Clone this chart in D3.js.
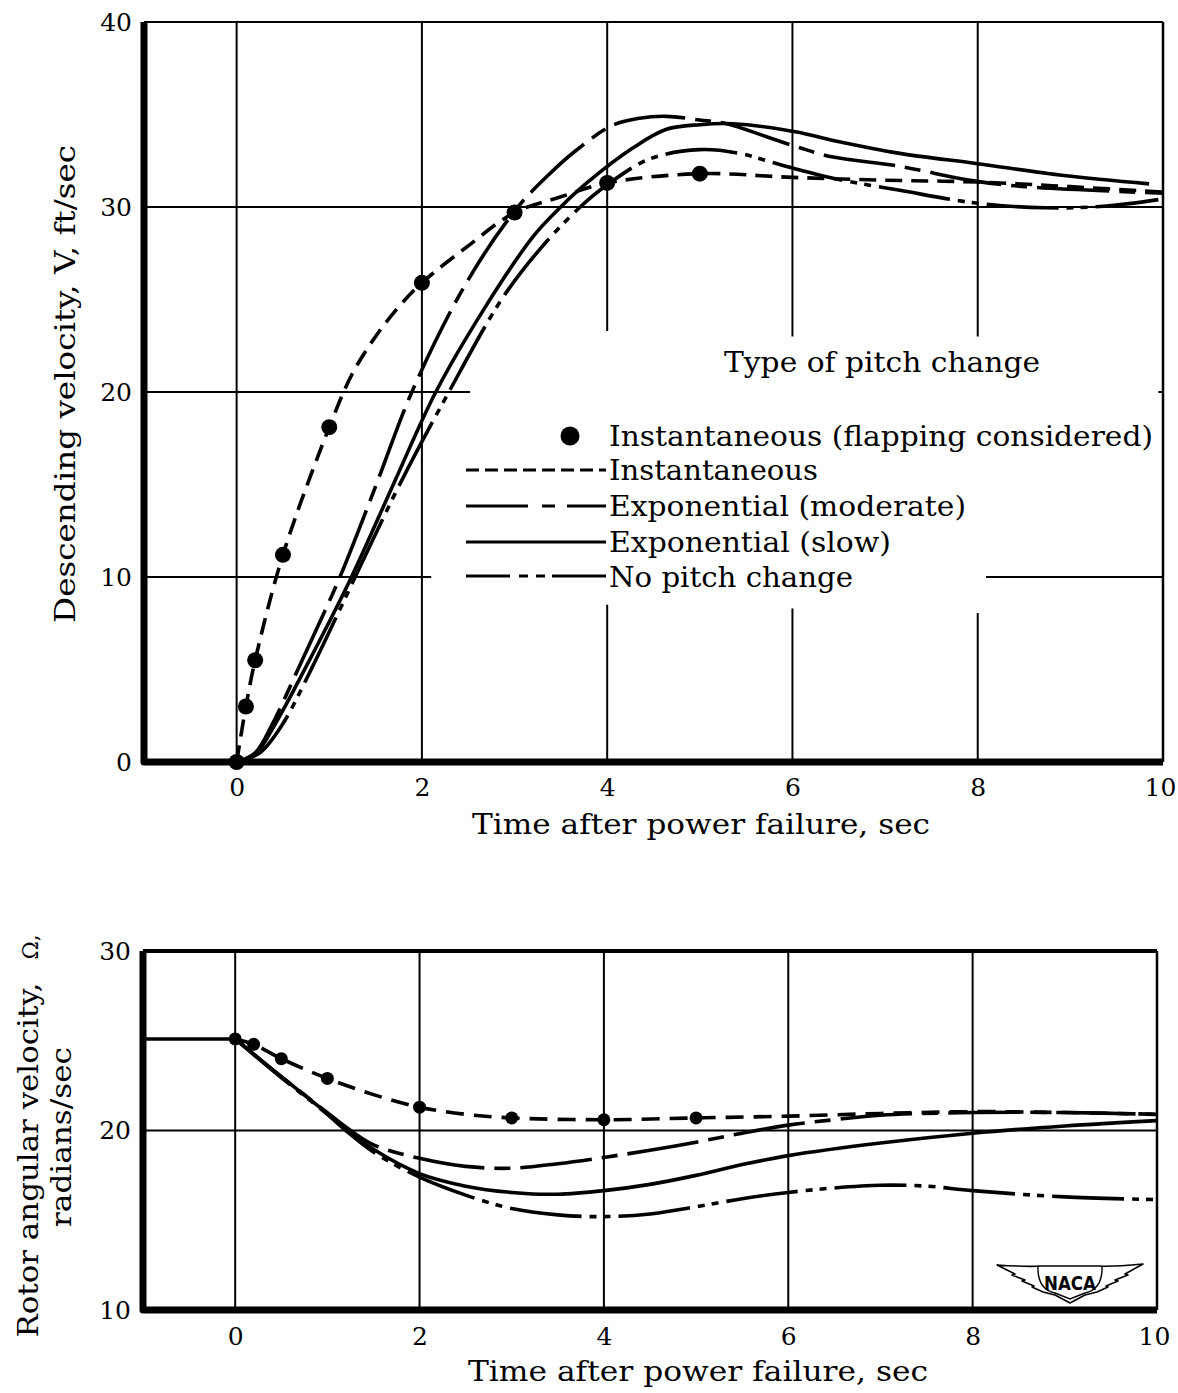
<!DOCTYPE html>
<html>
<head>
<meta charset="utf-8">
<script src="https://cdn.jsdelivr.net/npm/d3@7"></script>
<style>
  html, body { margin: 0; padding: 0; background: #fff; }
  svg { display: block; }
  text { font-family: "DejaVu Serif", serif; fill: #000; }
</style>
</head>
<body>
<svg id="chart" width="1178" height="1393"></svg>
<script>
// ---- top panel: descending velocity V (ft/sec) against time after power failure (sec)
const flapT = [0, 0.1, 0.2, 0.5, 1, 2, 3, 4, 5];
const flapV = [0, 3.0, 5.5, 11.2, 18.1, 25.9, 29.7, 31.3, 31.8];

const instT = [0, 0.1, 0.2, 0.5, 1, 1.25, 1.5, 1.75, 2, 2.5, 3, 3.5, 4, 5, 6, 7, 8, 9, 10];
const instV = [0, 3.0, 5.5, 11.2, 18.1, 21.0, 23.0, 24.6, 25.9, 27.9, 29.7, 30.55, 31.3, 31.8, 31.6, 31.45, 31.35, 31.1, 30.8];

const modT = [0, 0.2, 0.38, 0.67, 1.115, 1.5, 1.9, 2.48, 3.02, 3.38, 3.65, 4.05, 4.35, 4.64, 5.0, 5.29, 5.72, 6.08, 6.44, 7.16, 7.92, 8.51, 10];
const modV = [0, 0.5, 2.0, 5.1, 10, 14.9, 20.1, 25.9, 29.9, 31.8, 33.0, 34.4, 34.8, 34.9, 34.7, 34.5, 33.8, 33.2, 32.7, 32.2, 31.44, 31.1, 30.75];

const slowT = [0, 0.2, 0.41, 0.74, 1.24, 1.7, 2.15, 2.66, 3.2, 3.49, 3.78, 4.28, 4.64, 5.0, 5.36, 6.03, 6.44, 7.16, 8, 8.93, 9.85];
const slowV = [0, 0.4, 2.0, 5.06, 10, 15.1, 20.0, 24.4, 28.4, 29.96, 31.3, 33.2, 34.2, 34.45, 34.5, 34.07, 33.6, 32.9, 32.34, 31.7, 31.25];

const noneT = [0, 0.25, 0.49, 0.81, 1.28, 1.75, 2.28, 2.86, 3.27, 3.7, 4.0, 4.46, 5.0, 5.43, 5.72, 6.08, 6.44, 7.16, 8.0, 8.72, 9.36, 9.95];
const noneV = [0, 0.5, 2.0, 5.06, 10, 14.9, 19.9, 25.0, 27.7, 29.96, 31.2, 32.6, 33.1, 32.9, 32.5, 32.0, 31.55, 30.9, 30.2, 29.96, 30.04, 30.4];

// ---- bottom panel: rotor angular velocity (radians/sec)
const preT = [-1, 0];
const preW = [25.1, 25.1];

const flapTb = [0, 0.2, 0.5, 1, 2, 3, 4, 5];
const flapW = [25.1, 24.8, 24.0, 22.9, 21.3, 20.7, 20.6, 20.7];

const instTb = [0, 0.2, 0.5, 1, 1.5, 2, 2.5, 3, 4, 5, 6, 7, 8, 9, 10];
const instW = [25.1, 24.8, 24.0, 22.9, 22.0, 21.3, 20.9, 20.7, 20.6, 20.7, 20.8, 20.95, 21.05, 21.0, 20.9];

const modTb = [0, 0.5, 1, 1.2, 1.5, 2, 2.5, 3, 3.5, 4, 4.5, 5, 5.5, 6, 6.5, 7, 8, 9, 10];
const modW = [25.1, 23.0, 21.0, 20.2, 19.2, 18.45, 18.0, 17.9, 18.15, 18.5, 18.9, 19.35, 19.85, 20.3, 20.6, 20.85, 21.0, 21.0, 20.9];

const slowTb = [0, 0.5, 1, 1.2, 1.5, 2, 2.5, 3, 3.5, 4, 4.5, 5, 5.5, 6, 7, 8, 9, 10];
const slowW = [25.1, 23.0, 20.95, 20.1, 18.95, 17.6, 16.9, 16.55, 16.45, 16.65, 17.0, 17.5, 18.1, 18.6, 19.3, 19.85, 20.25, 20.55];

const noneTb = [0, 0.5, 1, 1.2, 1.5, 2, 2.5, 3, 3.5, 4, 4.5, 5, 5.5, 6, 6.5, 7, 7.5, 8, 9, 10];
const noneW = [25.1, 22.95, 20.9, 20.0, 18.8, 17.4, 16.4, 15.65, 15.3, 15.2, 15.35, 15.75, 16.2, 16.55, 16.8, 16.95, 16.9, 16.65, 16.3, 16.15];

// ticks
const xTicks = [0, 2, 4, 6, 8, 10];
const yTicksTop = [0, 10, 20, 30, 40];
const yTicksBottom = [10, 20, 30];

// grid lines of the top panel are broken around the legend
const vGridTop = [
  { t: 0, segs: [[0, 40]] },
  { t: 2, segs: [[0, 40]] },
  { t: 4, segs: [[0, 8.5], [23.3, 40]] },
  { t: 6, segs: [[0, 8.3], [23.0, 40]] },
  { t: 8, segs: [[0, 8.05], [23.0, 40]] },
];
const hGridTop = [
  { v: 10, segs: [[-1, 2.1], [8.09, 10]] },
  { v: 20, segs: [[-1, 2.52], [9.95, 10]] },
  { v: 30, segs: [[-1, 10]] },
];
const vGridBottom = [0, 2, 4, 6, 8];
const hGridBottom = [20];

const legendLabels = [
  'Instantaneous (flapping considered)',
  'Instantaneous',
  'Exponential (moderate)',
  'Exponential (slow)',
  'No pitch change',
];

const styles = {
  inst: { dash: '17,9', legendDash: '13,6' },
  mod: { dash: '72,10,16,10', legendDash: '62,14,13,12,60' },
  slow: { dash: null, legendDash: null },
  none: { dash: '72,8,7,7,7,8', legendDash: '44,9,9,8,9,7,60' },
};

const zip = (a, b) => a.map((v, i) => [v, b[i]]);

const svg = d3.select('#chart');

function drawCurve(g, x, y, t, v, dash) {
  const line = d3.line()
    .x((d) => x(d[0]))
    .y((d) => y(d[1]))
    .curve(d3.curveCatmullRom.alpha(0.5));
  g.append('path')
    .datum(zip(t, v))
    .attr('d', line)
    .attr('fill', 'none')
    .attr('stroke', '#000')
    .attr('stroke-width', 3.6)
    .attr('stroke-linecap', 'butt')
    .attr('stroke-dasharray', dash);
}

function drawDots(g, x, y, t, v, r) {
  g.selectAll(null)
    .data(zip(t, v))
    .join('circle')
    .attr('cx', (d) => x(d[0]))
    .attr('cy', (d) => y(d[1]))
    .attr('r', r)
    .attr('fill', '#000');
}

function drawAxes(g, x, y, yTicks, xPad) {
  const y0 = y.range()[0];
  const x0 = x.range()[0];
  const bottom = g.append('g')
    .attr('transform', `translate(0,${y0})`)
    .call(d3.axisBottom(x).tickValues(xTicks).tickSize(0).tickPadding(xPad));
  bottom.select('.domain').remove();
  bottom.attr('font-family', null).attr('font-size', 25);
  // keep the last label inside the page
  bottom.selectAll('.tick text').filter((d) => d === 10).attr('dx', -3);

  const left = g.append('g')
    .attr('transform', `translate(${x0},0)`)
    .call(d3.axisLeft(y).tickValues(yTicks).tickSize(0).tickPadding(12));
  left.select('.domain').remove();
  left.attr('font-family', null).attr('font-size', 25);
}

function drawFrame(g, x, y, wTop, wRight, wHeavy) {
  const [xl, xr] = x.range();
  const [yb, yt] = y.range();
  g.append('line').attr('x1', xl).attr('x2', xr).attr('y1', yt).attr('y2', yt)
    .attr('stroke', '#000').attr('stroke-width', wTop);
  g.append('line').attr('x1', xr).attr('x2', xr).attr('y1', yt).attr('y2', yb)
    .attr('stroke', '#000').attr('stroke-width', wRight);
  g.append('path')
    .attr('d', `M${xl},${yt}L${xl},${yb}L${xr},${yb}`)
    .attr('fill', 'none')
    .attr('stroke', '#000')
    .attr('stroke-width', wHeavy)
    .attr('stroke-linejoin', 'round');
}

// ================= top panel =================
const xTop = d3.scaleLinear().domain([-1, 10]).range([144, 1163]);
const yTop = d3.scaleLinear().domain([0, 40]).range([762, 22]);
const gTop = svg.append('g');

vGridTop.forEach((d) => {
  d.segs.forEach(([a, b]) => {
    gTop.append('line')
      .attr('x1', xTop(d.t)).attr('x2', xTop(d.t))
      .attr('y1', yTop(a)).attr('y2', yTop(b))
      .attr('stroke', '#000').attr('stroke-width', 2);
  });
});
hGridTop.forEach((d) => {
  d.segs.forEach(([a, b]) => {
    gTop.append('line')
      .attr('x1', xTop(a)).attr('x2', xTop(b))
      .attr('y1', yTop(d.v)).attr('y2', yTop(d.v))
      .attr('stroke', '#000').attr('stroke-width', 2);
  });
});

drawFrame(gTop, xTop, yTop, 2.2, 2.5, 7);

drawCurve(gTop, xTop, yTop, instT, instV, styles.inst.dash);
drawCurve(gTop, xTop, yTop, modT, modV, styles.mod.dash);
drawCurve(gTop, xTop, yTop, slowT, slowV, styles.slow.dash);
drawCurve(gTop, xTop, yTop, noneT, noneV, styles.none.dash);
drawDots(gTop, xTop, yTop, flapT, flapV, 8);

drawAxes(gTop, xTop, yTop, yTicksTop, 16);

gTop.append('text')
  .attr('x', 701).attr('y', 834)
  .attr('text-anchor', 'middle')
  .attr('font-size', 27)
  .attr('textLength', 458).attr('lengthAdjust', 'spacingAndGlyphs')
  .text('Time after power failure, sec');

gTop.append('text')
  .attr('transform', 'translate(75,384) rotate(-90)')
  .attr('text-anchor', 'middle')
  .attr('font-size', 27)
  .attr('textLength', 478).attr('lengthAdjust', 'spacingAndGlyphs')
  .text('Descending velocity, V, ft/sec');

// legend
const leg = gTop.append('g');
leg.append('text')
  .attr('x', 724).attr('y', 372)
  .attr('font-size', 27)
  .attr('textLength', 316).attr('lengthAdjust', 'spacingAndGlyphs')
  .text('Type of pitch change');

const legRows = [
  { y: 436, base: 446, len: 544, style: null },
  { y: 470, base: 480, len: 209, style: 'inst' },
  { y: 506, base: 516, len: 357, style: 'mod' },
  { y: 542, base: 552, len: 282, style: 'slow' },
  { y: 576, base: 587, len: 244, style: 'none' },
];
legRows.forEach((row, i) => {
  if (row.style === null) {
    leg.append('circle').attr('cx', 570).attr('cy', row.y).attr('r', 9.5).attr('fill', '#000');
  } else {
    leg.append('line')
      .attr('x1', 466).attr('x2', 606)
      .attr('y1', row.y).attr('y2', row.y)
      .attr('stroke', '#000').attr('stroke-width', 3)
      .attr('stroke-dasharray', styles[row.style].legendDash);
  }
  leg.append('text')
    .attr('x', 609).attr('y', row.base)
    .attr('font-size', 27)
    .attr('textLength', row.len).attr('lengthAdjust', 'spacingAndGlyphs')
    .text(legendLabels[i]);
});

// ================= bottom panel =================
const xBot = d3.scaleLinear().domain([-1, 10]).range([143, 1157]);
const yBot = d3.scaleLinear().domain([10, 30]).range([1310, 951]);
const gBot = svg.append('g');

vGridBottom.forEach((t) => {
  gBot.append('line')
    .attr('x1', xBot(t)).attr('x2', xBot(t))
    .attr('y1', yBot(10)).attr('y2', yBot(30))
    .attr('stroke', '#000').attr('stroke-width', 2);
});
hGridBottom.forEach((v) => {
  gBot.append('line')
    .attr('x1', xBot(-1)).attr('x2', xBot(10))
    .attr('y1', yBot(v)).attr('y2', yBot(v))
    .attr('stroke', '#000').attr('stroke-width', 2);
});

drawFrame(gBot, xBot, yBot, 4, 2.5, 7);

drawCurve(gBot, xBot, yBot, preT, preW, null);
drawCurve(gBot, xBot, yBot, instTb, instW, '18,10');
drawCurve(gBot, xBot, yBot, modTb, modW, styles.mod.dash);
drawCurve(gBot, xBot, yBot, slowTb, slowW, styles.slow.dash);
drawCurve(gBot, xBot, yBot, noneTb, noneW, styles.none.dash);
drawDots(gBot, xBot, yBot, flapTb, flapW, 6.5);

drawAxes(gBot, xBot, yBot, yTicksBottom, 17);

gBot.append('text')
  .attr('x', 698).attr('y', 1381)
  .attr('text-anchor', 'middle')
  .attr('font-size', 27)
  .attr('textLength', 460).attr('lengthAdjust', 'spacingAndGlyphs')
  .text('Time after power failure, sec');

gBot.append('text')
  .attr('transform', 'translate(38,1160) rotate(-90)')
  .attr('text-anchor', 'middle')
  .attr('font-size', 27)
  .attr('textLength', 355).attr('lengthAdjust', 'spacingAndGlyphs')
  .text('Rotor angular velocity,');
gBot.append('text')
  .attr('transform', 'translate(38,947) rotate(-90)')
  .attr('text-anchor', 'middle')
  .attr('font-size', 22)
  .text('Ω,');
gBot.append('text')
  .attr('transform', 'translate(71,1137) rotate(-90)')
  .attr('text-anchor', 'middle')
  .attr('font-size', 27)
  .attr('textLength', 180).attr('lengthAdjust', 'spacingAndGlyphs')
  .text('radians/sec');

// NACA wings badge
const logo = gBot.append('g').attr('transform', 'translate(1070,1283)');
logo.append('path')
  .attr('d', 'M-73,-18 Q-40,-16 -30,-17 L30,-17 Q40,-16 73,-19 '
    + 'L55,-9 L58,-8 L45,-3 L48,-2 L36,3 L38,4 L27,9 L15,12 L0,20 '
    + 'L-15,12 L-27,9 L-38,4 L-36,3 L-48,-2 L-45,-3 L-58,-8 L-55,-9 Z')
  .attr('fill', '#fff').attr('stroke', '#000').attr('stroke-width', 1.6).attr('stroke-linejoin', 'round');
logo.append('path')
  .attr('d', 'M-32,-17 Q-33,6 -15,10 L0,16 L15,10 Q33,6 32,-17')
  .attr('fill', 'none').attr('stroke', '#000').attr('stroke-width', 1.4);
logo.append('text')
  .attr('x', 0).attr('y', 7)
  .attr('text-anchor', 'middle')
  .style('font-family', '"DejaVu Sans", sans-serif')
  .attr('font-weight', 'bold')
  .attr('font-size', 19)
  .attr('textLength', 52).attr('lengthAdjust', 'spacingAndGlyphs')
  .text('NACA');
</script>
</body>
</html>
